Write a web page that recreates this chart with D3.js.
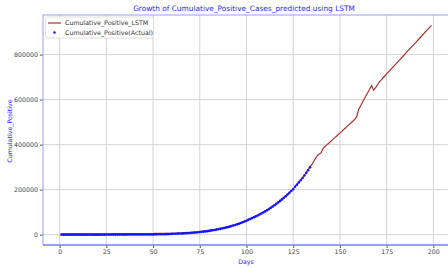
<!DOCTYPE html>
<html>
<head>
<meta charset="utf-8">
<script src="https://cdn.jsdelivr.net/npm/d3@7"></script>
<style>
  body { margin: 0; background: #fff; }
  svg { display: block; font-family: "DejaVu Sans", sans-serif; }
</style>
</head>
<body>
<div id="chart"></div>
<script>
const xTicks = [0, 25, 50, 75, 100, 125, 150, 175, 200];
const yTicks = [0, 200000, 400000, 600000, 800000];

// actual cumulative positives, days 1..134
const actual = [
    1, 1, 2, 3, 3, 5, 7, 9, 12, 15,
    18, 22, 26, 31, 36, 40, 45, 51, 58, 66,
    73, 80, 88, 97, 106, 118, 129, 141, 155, 170,
    186, 205, 226, 249, 275, 304, 336, 370, 408, 450,
    496, 547, 603, 664, 730, 802, 880, 965, 1058, 1160,
    1270, 1390, 1520, 1660, 1815, 1985, 2170, 2370, 2590, 3500,
    3800, 4100, 4450, 4800, 5200, 5650, 6100, 6600, 7150, 7750,
    8400, 9100, 9850, 10650, 11550, 12450, 13400, 14450, 15550, 16750,
    18000, 19400, 20850, 22450, 24150, 25800, 27550, 29400, 31350, 33400,
    35600, 37950, 40400, 43000, 45800, 48750, 51800, 55000, 58400, 62000,
    65800, 69800, 73500, 77300, 81200, 85300, 89600, 94000, 98600, 103400,
    108400, 113600, 119000, 124700, 130600, 136800, 143200, 149900, 156600, 163500,
    170600, 178000, 185700, 193700, 202000, 212800, 222000, 231500, 241500, 252000,
    263000, 274500, 286500, 299000
];

// LSTM prediction, days 1..199
const lstm = [
    3500, 3500, 3500, 3550, 3550, 3550, 3600, 3600, 3600, 3650,
    3650, 3700, 3700, 3700, 3750, 3750, 3800, 3800, 3850, 3850,
    3900, 3900, 3950, 4000, 4000, 4050, 4100, 4100, 4150, 4200,
    4250, 4300, 4350, 4400, 4450, 4500, 4550, 4600, 4650, 4700,
    4750, 4800, 4850, 4900, 4950, 5000, 5050, 5100, 5150, 5200,
    5250, 5300, 5350, 5400, 5450, 5500, 5550, 5600, 5700, 5800,
    5900, 6100, 6400, 6700, 7100, 7500, 7950, 8450, 9000, 9600,
    10250, 10950, 11700, 12500, 13400, 14300, 15250, 16300, 17400, 18600,
    19850, 21250, 22700, 24300, 26000, 27650, 29400, 31250, 33200, 35250,
    37450, 39800, 42250, 44850, 47650, 50600, 53650, 56850, 60250, 63850,
    67650, 71650, 75350, 79150, 83050, 87150, 91450, 95850, 100450, 105250,
    110250, 115450, 120850, 126550, 132450, 138650, 145050, 151750, 158450, 165350,
    172450, 179850, 187550, 195550, 203850, 214650, 223850, 233350, 243350, 253850,
    264850, 276350, 288350, 300850, 312000, 326000, 340000, 352000, 358000, 364000,
    384000, 392000, 399000, 406000, 414000, 421000, 429000, 436000, 444000, 451000,
    459000, 467000, 474000, 482000, 490000, 497000, 505000, 513000, 524000, 556000,
    572000, 587000, 603000, 618000, 633000, 648000, 662000, 642000, 652000, 664000,
    677000, 687000, 696000, 705000, 714000, 723000, 732000, 741000, 750000, 759000,
    768000, 777000, 786000, 795000, 804000, 813000, 822000, 831000, 840000, 849000,
    858000, 867000, 876000, 885000, 894000, 903000, 912000, 921000, 930000
];

const width = 448, height = 268;
const margin = { top: 15, right: -2, bottom: 23, left: 43 };

const svg = d3.select('#chart').append('svg')
    .attr('width', width)
    .attr('height', height);

const x = d3.scaleLinear()
    .domain([-8.9, 208.9])
    .range([margin.left, width - margin.right]);

const y = d3.scaleLinear()
    .domain([-46000, 976000])
    .range([height - margin.bottom, margin.top]);

// grid
svg.append('g')
    .selectAll('line')
    .data(xTicks)
    .join('line')
    .attr('x1', d => x(d)).attr('x2', d => x(d))
    .attr('y1', margin.top).attr('y2', height - margin.bottom)
    .attr('stroke', '#d4d4d4').attr('stroke-width', 1);

svg.append('g')
    .selectAll('line')
    .data(yTicks)
    .join('line')
    .attr('x1', margin.left).attr('x2', width - margin.right)
    .attr('y1', d => y(d)).attr('y2', d => y(d))
    .attr('stroke', '#d4d4d4').attr('stroke-width', 1);

// axes
function xAxis(g) {
    g.attr('transform', `translate(0,${height - margin.bottom})`)
        .call(d3.axisBottom(x).tickValues(xTicks).tickSize(3).tickPadding(2))
        .attr('font-size', '6.3px')
        .attr('font-family', '"DejaVu Sans", sans-serif');
    g.select('.domain').remove();
    g.selectAll('text').attr('fill', '#444');
    g.selectAll('.tick line').attr('stroke', '#555');
}

function yAxis(g) {
    g.attr('transform', `translate(${margin.left},0)`)
        .call(d3.axisLeft(y).tickValues(yTicks).tickFormat(d3.format('d')).tickSize(3).tickPadding(2))
        .attr('font-size', '6.3px')
        .attr('font-family', '"DejaVu Sans", sans-serif');
    g.select('.domain').remove();
    g.selectAll('text').attr('fill', '#444');
    g.selectAll('.tick line').attr('stroke', '#555');
}

svg.append('g').call(xAxis);
svg.append('g').call(yAxis);

// lstm line
const line = d3.line()
    .x((d, i) => x(i + 1))
    .y(d => y(d));

svg.append('path')
    .datum(lstm)
    .attr('fill', 'none')
    .attr('stroke', '#b03030')
    .attr('stroke-width', 1.2)
    .attr('d', line);

// actual points
svg.append('g')
    .attr('fill', '#1414ff')
    .selectAll('circle')
    .data(actual)
    .join('circle')
    .attr('cx', (d, i) => x(i + 1))
    .attr('cy', d => y(d))
    .attr('r', 1.3);

// spines
svg.append('line')
    .attr('x1', margin.left).attr('x2', margin.left)
    .attr('y1', margin.top).attr('y2', height - margin.bottom)
    .attr('stroke', '#9a9aff').attr('stroke-width', 1);
svg.append('line')
    .attr('x1', margin.left).attr('x2', width)
    .attr('y1', margin.top).attr('y2', margin.top)
    .attr('stroke', '#9a9aff').attr('stroke-width', 1);
svg.append('line')
    .attr('x1', margin.left).attr('x2', width)
    .attr('y1', height - margin.bottom).attr('y2', height - margin.bottom)
    .attr('stroke', '#7c7cff').attr('stroke-width', 1.4);

// legend
const legend = svg.append('g');
legend.append('rect')
    .attr('x', 45.5).attr('y', 17)
    .attr('width', 108).attr('height', 21)
    .attr('rx', 2)
    .attr('fill', '#fff').attr('fill-opacity', 0.85)
    .attr('stroke', '#d8d8d8').attr('stroke-width', 0.8);
legend.append('line')
    .attr('x1', 48).attr('x2', 61)
    .attr('y1', 23).attr('y2', 23)
    .attr('stroke', '#b03030').attr('stroke-width', 1.2);
legend.append('circle')
    .attr('cx', 54.5).attr('cy', 32.5).attr('r', 1.2)
    .attr('fill', '#1414ff');
legend.append('text')
    .attr('x', 65).attr('y', 25.2)
    .attr('font-size', '6.3px').attr('fill', '#333')
    .text('Cumulative_Positive_LSTM');
legend.append('text')
    .attr('x', 65).attr('y', 34.7)
    .attr('font-size', '6.3px').attr('fill', '#333')
    .text('Cumulative_Positive(Actual)');

// title and labels
svg.append('text')
    .attr('x', 244).attr('y', 11)
    .attr('text-anchor', 'middle')
    .attr('font-size', '7.4px').attr('fill', '#2a2aff')
    .text('Growth of Cumulative_Positive_Cases_predicted using LSTM');

svg.append('text')
    .attr('x', 246).attr('y', 264)
    .attr('text-anchor', 'middle')
    .attr('font-size', '6.3px').attr('fill', '#2a2aff')
    .text('Days');

svg.append('text')
    .attr('transform', `translate(12,131) rotate(-90)`)
    .attr('text-anchor', 'middle')
    .attr('font-size', '6.3px').attr('fill', '#2a2aff')
    .text('Cumulative_Positive');
</script>
</body>
</html>
